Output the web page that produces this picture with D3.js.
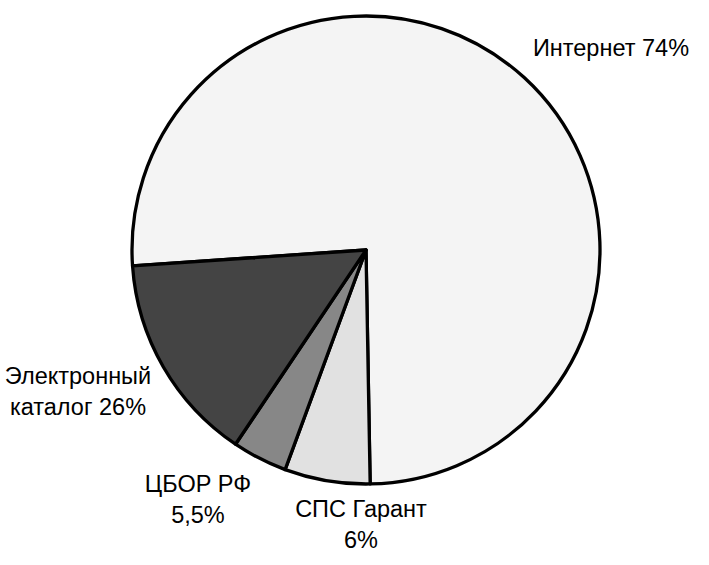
<!DOCTYPE html>
<html>
<head>
<meta charset="utf-8">
<script src="https://cdn.jsdelivr.net/npm/d3@7"></script>
<style>
  body { margin: 0; background: #fff; }
  svg { display: block; }
  text { font-family: "Liberation Sans", Arial, sans-serif; fill: #000; }
</style>
</head>
<body>
<svg></svg>
<script>
const width = 709;
const height = 565;

// slices, in drawing order (clockwise)
const categories = ["Интернет", "СПС Гарант", "ЦБОР РФ", "Электронный каталог"];
// share of the circle as drawn
const shares = [75.8, 5.9, 3.8, 14.5];
// label text as printed
const labelLines = [
  ["Интернет 74%"],
  ["СПС Гарант", "6%"],
  ["ЦБОР РФ", "5,5%"],
  ["Электронный", "каталог 26%"]
];

const color = d3.scaleOrdinal()
  .domain(categories)
  .range(["#f4f4f4", "#e1e1e1", "#878787", "#444444"]);

const cx = 366, cy = 250, radius = 234;

// where each label block sits (anchor x, first baseline y)
const labelPos = [[611, 56], [361, 517], [198, 492], [78, 384]];

const svg = d3.select("svg")
  .attr("width", width)
  .attr("height", height);

const pie = d3.pie()
  .sort(null)
  .value(d => d)
  .startAngle(-93.9 * Math.PI / 180)
  .endAngle((360 - 93.9) * Math.PI / 180);

const arc = d3.arc()
  .innerRadius(0)
  .outerRadius(radius);

const g = svg.append("g")
  .attr("transform", `translate(${cx},${cy})`);

g.selectAll("path")
  .data(pie(shares))
  .join("path")
  .attr("d", arc)
  .attr("fill", (d, i) => color(categories[i]))
  .attr("stroke", "#000")
  .attr("stroke-width", 3.3)
  .attr("stroke-linejoin", "round");

const label = svg.selectAll("text.lbl")
  .data(labelLines)
  .join("text")
  .attr("class", "lbl")
  .attr("text-anchor", "middle")
  .style("font-size", "23.5px");

label.selectAll("tspan")
  .data((d, i) => d.map((t, j) => ({ t, j, i })))
  .join("tspan")
  .attr("x", d => labelPos[d.i][0])
  .attr("y", d => labelPos[d.i][1] + d.j * 30.5)
  .text(d => d.t);
</script>
</body>
</html>
